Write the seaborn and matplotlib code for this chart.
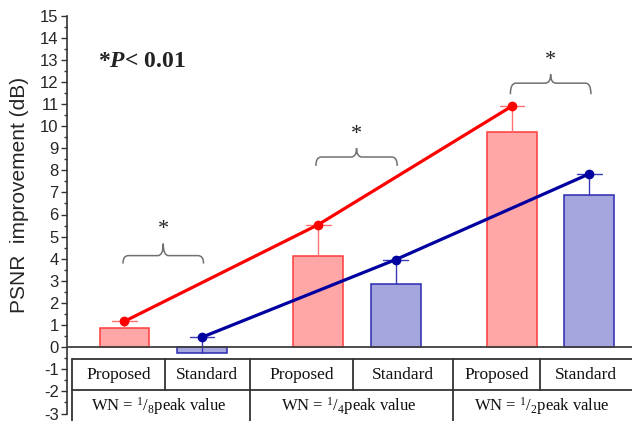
import numpy as np
import pandas as pd
import matplotlib
matplotlib.use("Agg")
import matplotlib.pyplot as plt
from matplotlib.path import Path
from matplotlib.patches import PathPatch
import seaborn as sns

# ---- data ----
methods = ["Proposed", "Standard", "Proposed", "Standard", "Proposed", "Standard"]
positions = [0.0, 1.0, 2.5, 3.5, 5.0, 6.0]
bar_values = [0.86, -0.27, 4.14, 2.84, 9.73, 6.89]
dot_values = [1.17, 0.45, 5.54, 3.96, 10.9, 7.84]
group_labels = [r"WN = $^{1}/_{8}$peak value", r"WN = $^{1}/_{4}$peak value",
                r"WN = $^{1}/_{2}$peak value"]
sig_label = "*"
yticks = list(range(-3, 16))

sns.set_theme(style="white")
plt.rcParams["font.family"] = ["Liberation Sans", "DejaVu Sans"]
plt.rcParams["mathtext.fontset"] = "custom"
plt.rcParams["mathtext.rm"] = "Liberation Serif"
plt.rcParams["mathtext.it"] = "Liberation Serif:italic"
plt.rcParams["mathtext.bf"] = "Liberation Serif:bold"
plt.rcParams["mathtext.bfit"] = "Liberation Serif:italic:bold"

red_fill, red_edge, red_line = "#FFA6A6", "#FF3B3B", "#FF0000"
blue_fill, blue_edge, blue_line = "#A4A6DD", "#2A2AB0", "#0000A0"

fig = plt.figure(figsize=(6.32, 4.21), dpi=100)
ax = fig.add_axes([67 / 632, 7.5 / 421, 1 - 67 / 632, 398.0 / 421])

df = pd.DataFrame({"x": positions, "y": bar_values, "method": methods})
sns.barplot(data=df, x="x", y="y", hue="method", native_scale=True, dodge=False,
            width=0.645, palette={"Proposed": red_fill, "Standard": blue_fill},
            saturation=1, legend=False, ax=ax, linewidth=1.1)
for p in ax.patches:
    cx = p.get_x() + p.get_width() / 2
    idx = int(np.argmin([abs(cx - q) for q in positions]))
    p.set_edgecolor(red_edge if methods[idx] == "Proposed" else blue_edge)

# error bars from bar to dot
for x, b, d, m in zip(positions, bar_values, dot_values, methods):
    c = "#FF7070" if m == "Proposed" else "#3A3AB8"
    ax.plot([x, x], [b, d], color=c, lw=1.0, zorder=3)
    ax.plot([x - 0.16, x + 0.16], [d, d], color=c, lw=1.0, zorder=3)

# lines
for m, col in (("Proposed", red_line), ("Standard", blue_line)):
    sub = pd.DataFrame({"x": [p for p, mm in zip(positions, methods) if mm == m],
                        "y": [v for v, mm in zip(dot_values, methods) if mm == m]})
    sns.lineplot(data=sub, x="x", y="y", color=col, lw=2.3, marker="o",
                 markersize=7, markeredgewidth=0, ax=ax, zorder=4)

ax.axhline(0, color="#404040", lw=1.3, zorder=5)

ax.set_xlim(-0.742, 6.55)
ax.set_ylim(-3, 15)
ax.set_yticks(yticks)
ax.set_yticklabels([str(t) for t in yticks], fontsize=12)
ax.yaxis.set_minor_locator(matplotlib.ticker.MultipleLocator(0.5))
ax.tick_params(axis="y", which="major", direction="out", length=4, width=1, color="#333333", left=True, pad=2)
ax.tick_params(axis="y", which="minor", direction="out", length=2.5, width=1, color="#333333", left=True)
ax.set_xticks([])
ax.set_xlabel("")
ax.set_ylabel("PSNR  improvement (dB)", fontsize=15)
ax.yaxis.set_label_coords(-0.068, 0.55)
for s in ("top", "right", "bottom"):
    ax.spines[s].set_visible(False)
ax.spines["left"].set_color("#333333")
ax.spines["left"].set_linewidth(1.2)

# table under the axis
tcol = "#333333"
y_top, y_mid, y_bot = -0.55, -1.94, -3.6
x_left, x_right = -0.68, 6.7
kw = dict(color=tcol, lw=1.3, clip_on=False, zorder=6)
ax.plot([x_left, x_right], [y_top, y_top], **kw)
ax.plot([x_left, x_right], [y_mid, y_mid], **kw)
ax.plot([x_left, x_left], [y_top, y_bot], **kw)
row1_sep = [0.52, 1.62, 2.95, 4.24, 5.36]
for xs in row1_sep:
    ax.plot([xs, xs], [y_top, y_mid], **kw)
for xs in (1.62, 4.24):
    ax.plot([xs, xs], [y_mid, y_bot], **kw)
row1_centers = [-0.08, 1.07, 2.29, 3.6, 4.8, 5.95]
for cx, m in zip(row1_centers, methods):
    ax.text(cx, -1.28, m, ha="center", va="center", fontsize=12.5,
            family="Liberation Serif", color="#111111")
for cx, g in zip([0.45, 2.9, 5.39], group_labels):
    ax.text(cx, -2.66, g, ha="center", va="center", fontsize=12,
            family="Liberation Serif", color="#111111")

# braces
def brace(x0, x1, yb, ym, yp):
    xc = (x0 + x1) / 2
    r = 0.07
    verts = [(x0, yb), (x0, ym), (x0 + r, ym),
             (xc - r, ym), (xc, ym), (xc, yp),
             (xc, ym), (xc + r, ym),
             (x1 - r, ym), (x1, ym), (x1, yb)]
    codes = [Path.MOVETO, Path.CURVE3, Path.CURVE3,
             Path.LINETO, Path.CURVE3, Path.CURVE3,
             Path.CURVE3, Path.CURVE3,
             Path.LINETO, Path.CURVE3, Path.CURVE3]
    ax.add_patch(PathPatch(Path(verts, codes), fill=False, edgecolor="#707070", lw=1.1, zorder=3))

brace_specs = [(-0.02, 1.02, 3.78, 4.14, 4.68, 5.3),
               (2.47, 3.52, 8.2, 8.6, 9.0, 9.6),
               (4.98, 6.02, 11.44, 11.94, 12.34, 12.95)]
for x0, x1, yb, ym, yp, ys in brace_specs:
    brace(x0, x1, yb, ym, yp)
    ax.text((x0 + x1) / 2, ys, sig_label, ha="center", va="center", fontsize=16,
            family="Liberation Serif", color="#222222")

ax.text(-0.34, 12.9, r"*$\mathbfit{P}$< 0.01", ha="left", va="center", fontsize=17,
        family="Liberation Serif", fontweight="bold", color="#222222")

fig.savefig("out.png", dpi=100)
